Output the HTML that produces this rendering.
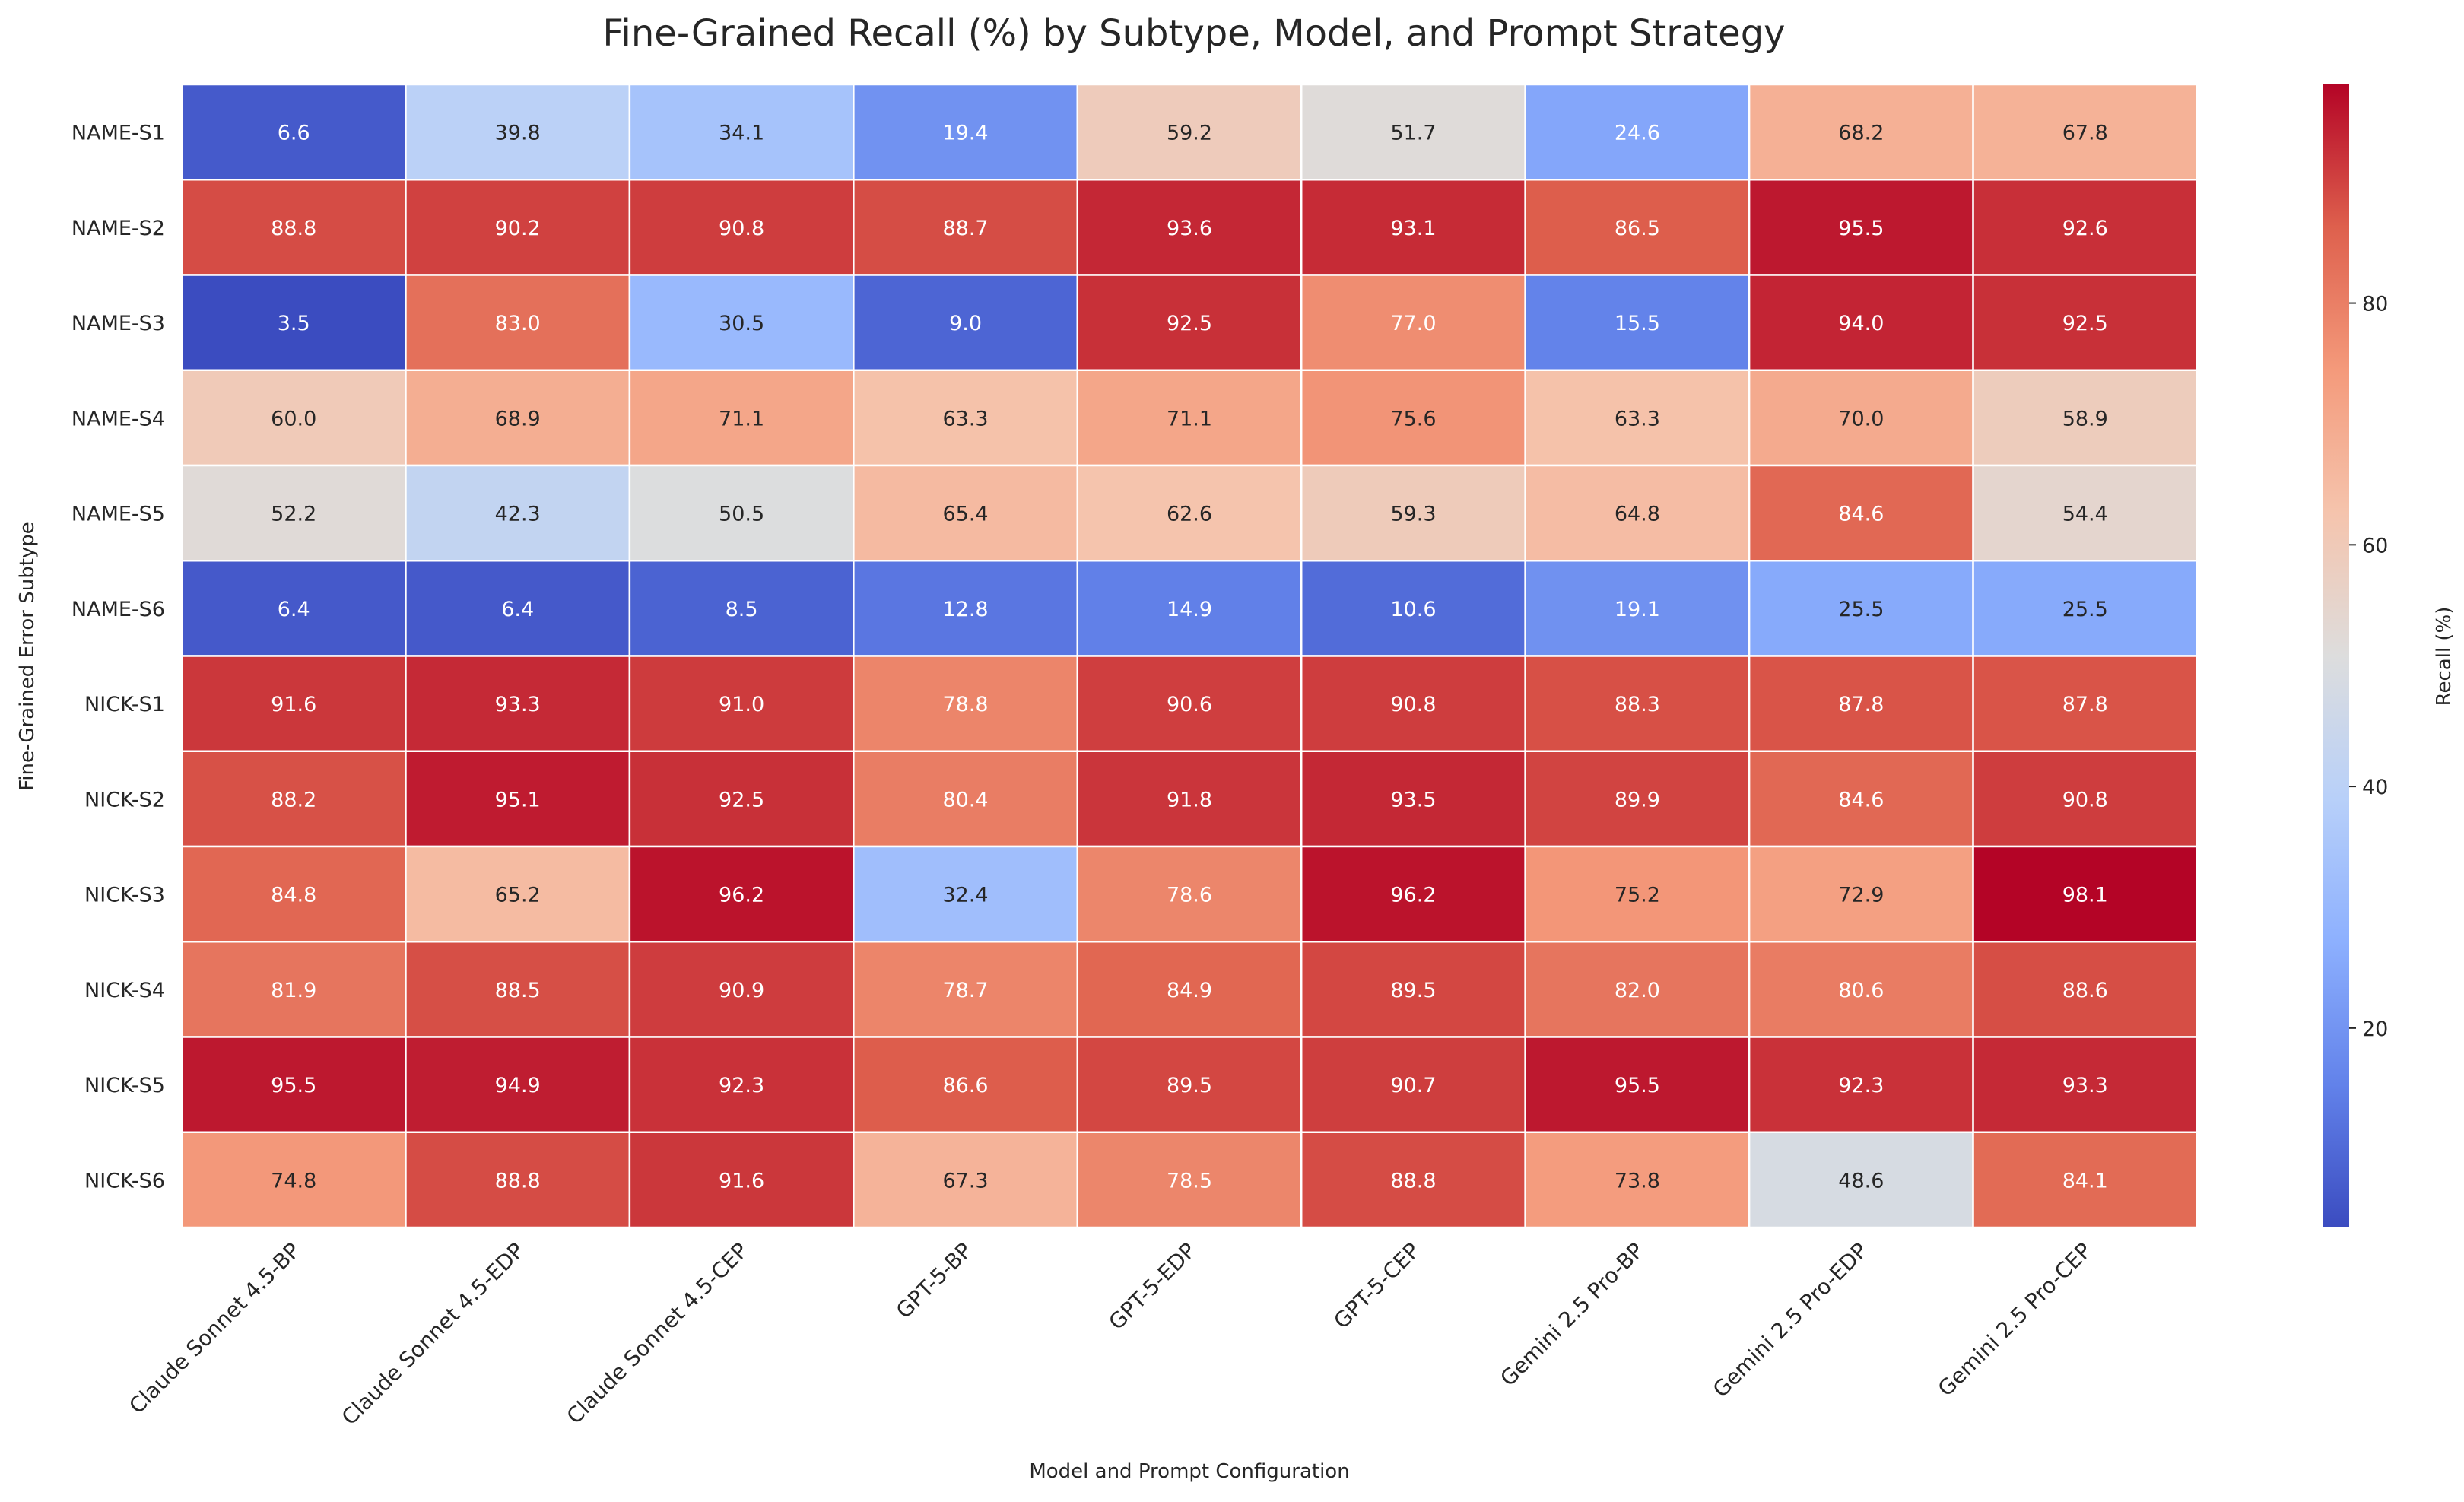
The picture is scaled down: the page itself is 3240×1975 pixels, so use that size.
<!DOCTYPE html>
<html><head><meta charset="utf-8"><style>
body{margin:0;background:#fff}
svg{display:block;font-family:"DejaVu Sans","Liberation Sans",sans-serif}
</style></head><body>
<svg id="chart" width="3240" height="1975" viewBox="0 0 3240 1975" xmlns="http://www.w3.org/2000/svg">
<defs><linearGradient id="cbgrad" x1="0" y1="1" x2="0" y2="0">
<stop offset="0" stop-color="rgb(59,76,192)"/><stop offset="0.125" stop-color="rgb(98,130,234)"/><stop offset="0.25" stop-color="rgb(141,176,254)"/><stop offset="0.375" stop-color="rgb(184,208,249)"/><stop offset="0.5" stop-color="rgb(221,221,221)"/><stop offset="0.625" stop-color="rgb(245,196,173)"/><stop offset="0.75" stop-color="rgb(244,154,123)"/><stop offset="0.875" stop-color="rgb(222,96,77)"/><stop offset="1" stop-color="rgb(180,4,38)"/>
</linearGradient></defs>
<text x="1570" y="60" text-anchor="middle" font-size="48" fill="#262626">Fine-Grained Recall (%) by Subtype, Model, and Prompt Strategy</text>
<g id="cells"></g>
<g id="ylabels"></g>
<g id="xlabels"></g>
<text x="44" y="863" transform="rotate(-90 44 863)" text-anchor="middle" font-size="26" fill="#262626">Fine-Grained Error Subtype</text>
<text x="1564" y="1943" text-anchor="middle" font-size="26" fill="#262626">Model and Prompt Configuration</text>
<rect x="3055" y="111" width="34" height="1503" fill="url(#cbgrad)"/>
<g id="cbticks"></g>
<text x="3222" y="863" transform="rotate(-90 3222 863)" text-anchor="middle" font-size="26" fill="#262626">Recall (%)</text>
</svg>
<script>
const rowLabels=["NAME-S1","NAME-S2","NAME-S3","NAME-S4","NAME-S5","NAME-S6","NICK-S1","NICK-S2","NICK-S3","NICK-S4","NICK-S5","NICK-S6"];
const colLabels=["Claude Sonnet 4.5-BP","Claude Sonnet 4.5-EDP","Claude Sonnet 4.5-CEP","GPT-5-BP","GPT-5-EDP","GPT-5-CEP","Gemini 2.5 Pro-BP","Gemini 2.5 Pro-EDP","Gemini 2.5 Pro-CEP"];
const values=[
[6.6,39.8,34.1,19.4,59.2,51.7,24.6,68.2,67.8],
[88.8,90.2,90.8,88.7,93.6,93.1,86.5,95.5,92.6],
[3.5,83.0,30.5,9.0,92.5,77.0,15.5,94.0,92.5],
[60.0,68.9,71.1,63.3,71.1,75.6,63.3,70.0,58.9],
[52.2,42.3,50.5,65.4,62.6,59.3,64.8,84.6,54.4],
[6.4,6.4,8.5,12.8,14.9,10.6,19.1,25.5,25.5],
[91.6,93.3,91.0,78.8,90.6,90.8,88.3,87.8,87.8],
[88.2,95.1,92.5,80.4,91.8,93.5,89.9,84.6,90.8],
[84.8,65.2,96.2,32.4,78.6,96.2,75.2,72.9,98.1],
[81.9,88.5,90.9,78.7,84.9,89.5,82.0,80.6,88.6],
[95.5,94.9,92.3,86.6,89.5,90.7,95.5,92.3,93.3],
[74.8,88.8,91.6,67.3,78.5,88.8,73.8,48.6,84.1]];
const cbTicks=[20,40,60,80];
const vmin=3.5,vmax=98.1;
const L=239,R=2889,T=111,B=1614;
const cw=(R-L)/colLabels.length,rh=(B-T)/rowLabels.length;
const xPos=i=>L+i*cw, yPos=j=>T+j*rh;
const cbY=v=>B-(v-vmin)/(vmax-vmin)*(B-T);
const stops=[[59,76,192],[98,130,234],[141,176,254],[184,208,249],[221,221,221],[245,196,173],[244,154,123],[222,96,77],[180,4,38]];
function cmap(v){let t=Math.max(0,Math.min(1,(v-vmin)/(vmax-vmin)))*8;let i=Math.min(7,Math.floor(t)),f=t-i;
return [0,1,2].map(k=>Math.round(stops[i][k]+(stops[i+1][k]-stops[i][k])*f));}
function lum(c){let s=0;const w=[0.2126,0.7152,0.0722];for(let k=0;k<3;k++){let x=c[k]/255;x=x<=0.03928?x/12.92:Math.pow((x+0.055)/1.055,2.4);s+=w[k]*x;}return s;}
const NS="http://www.w3.org/2000/svg";
const cells=document.getElementById('cells');
values.forEach((row,j)=>row.forEach((v,i)=>{
 const c=cmap(v);
 const r=document.createElementNS(NS,'rect');
 r.setAttribute('x',xPos(i));r.setAttribute('y',yPos(j));r.setAttribute('width',cw);r.setAttribute('height',rh);
 r.setAttribute('fill','rgb('+c[0]+','+c[1]+','+c[2]+')');r.setAttribute('stroke','#ffffff');r.setAttribute('stroke-width','2.5');
 
 
 cells.appendChild(r);
 const light=lum(c)<=0.408;
 const t=document.createElementNS(NS,'text');
 t.setAttribute('x',xPos(i)+cw/2);t.setAttribute('y',yPos(j)+rh/2+10);
 t.setAttribute('text-anchor','middle');t.setAttribute('font-size','27');
 t.setAttribute('fill',light?'white':'#262626');
 t.style.setProperty('fill',light?'white':'#262626','important');
 t.textContent=v.toFixed(1);
 
 
 cells.appendChild(t);
}));
const yl=document.getElementById('ylabels');
rowLabels.forEach((s,j)=>{
 const t=document.createElementNS(NS,'text');
 t.setAttribute('x',L-22);t.setAttribute('y',yPos(j)+rh/2+10);t.setAttribute('text-anchor','end');t.setAttribute('font-size','27');t.setAttribute('fill','#262626');
 t.textContent=s;
 
 
 yl.appendChild(t);
});
const xl=document.getElementById('xlabels');
colLabels.forEach((s,i)=>{
 const x=xPos(i)+cw/2+10,y=B+32;
 const t=document.createElementNS(NS,'text');
 t.setAttribute('x',x);t.setAttribute('y',y);t.setAttribute('text-anchor','end');t.setAttribute('font-size','28');t.setAttribute('fill','#262626');
 t.setAttribute('transform','rotate(-45 '+x+' '+y+')');
 t.textContent=s;
 
 
 xl.appendChild(t);
});
const cb=document.getElementById('cbticks');
cbTicks.forEach(v=>{
 const y=cbY(v);
 const l=document.createElementNS(NS,'line');
 l.setAttribute('x1',3089);l.setAttribute('x2',3098);l.setAttribute('y1',y);l.setAttribute('y2',y);l.setAttribute('stroke','#262626');l.setAttribute('stroke-width','2');
 
 
 cb.appendChild(l);
 const t=document.createElementNS(NS,'text');
 t.setAttribute('x',3106);t.setAttribute('y',y+10);t.setAttribute('font-size','27');t.setAttribute('fill','#262626');
 t.textContent=v;
 
 
 cb.appendChild(t);
});
</script>
</body></html>
